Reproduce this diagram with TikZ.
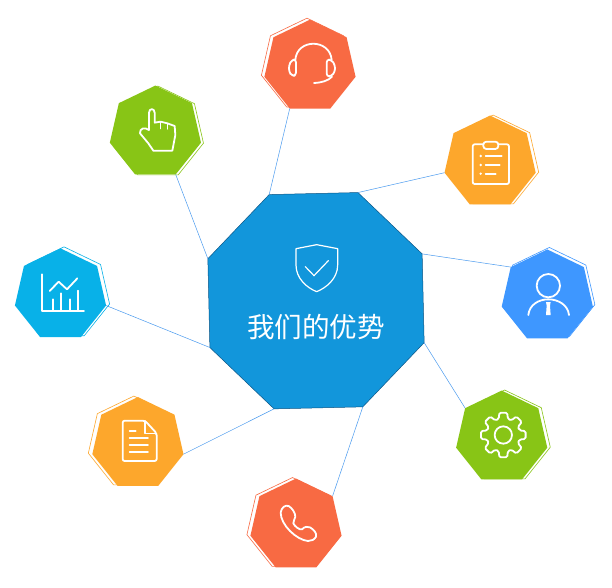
\documentclass[tikz,border=0pt]{standalone}
\usepackage{fontspec}
\newfontfamily\cjk{Noto Sans CJK SC}
\usetikzlibrary{shapes.geometric}
\definecolor{coral}{HTML}{F86A43}
\definecolor{leaf}{HTML}{88C516}
\definecolor{amber}{HTML}{FDA72C}
\definecolor{azure}{HTML}{3E97FF}
\definecolor{sky}{HTML}{08B1E8}
\definecolor{hubblue}{HTML}{1296DB}
\definecolor{hubedge}{HTML}{0B5585}
\definecolor{linkblue}{HTML}{4A9BEF}
\tikzset{
  hept/.style={regular polygon,regular polygon sides=7,minimum size=93.5pt,inner sep=0pt,outer sep=0pt},
  heptfill/.style={hept,fill=#1},
  heptline/.style={hept,draw=#1,fill=white,line width=0.6pt},
  hubshape/.style={regular polygon,regular polygon sides=8,minimum size=232pt,inner sep=0pt,outer sep=0pt,
    shape border rotate=1.3,fill=hubblue,draw=hubedge,line width=0.5pt},
  link/.style={draw=linkblue,line width=0.5pt},
  icon/.style={draw=white,line width=1.8pt,line cap=round,line join=round},
  iconthin/.style={draw=white,line width=1.2pt,line cap=round,line join=round},
  title/.style={text=white,font=\cjk\fontsize{27.6}{28}\selectfont,inner sep=0pt},
}
\begin{document}
\begin{tikzpicture}[x=1pt,y=-1pt]
\useasboundingbox (0,0) rectangle (612,587);
\fill[white] (0,0) rectangle (612,587);
% outlines
\node[heptline=coral] (headsetline) at (307,64.9) {};
\node[heptline=leaf]  (handline)    at (157.9,132.8) {};
\node[heptline=amber] (clipline)    at (493.1,161.8) {};
\node[heptline=azure] (personline)  at (549.3,294.2) {};
\node[heptline=leaf]  (gearline)    at (504.7,436.8) {};
\node[heptline=coral] (phoneline)   at (292.5,524.3) {};
\node[heptline=amber] (docline)     at (133.9,442.8) {};
\node[heptline=sky]   (chartline)   at (64,293.6) {};
% fills
\node[heptfill=coral] (headset) at (310,66.4) {};
\node[heptfill=leaf]  (hand)    at (155.4,132.3) {};
\node[heptfill=amber] (clip)    at (490.1,162.3) {};
\node[heptfill=azure] (person)  at (547.3,296.2) {};
\node[heptfill=leaf]  (gear)    at (501.7,437.3) {};
\node[heptfill=coral] (phone)   at (296,525.3) {};
\node[heptfill=amber] (doc)     at (137.9,443.8) {};
\node[heptfill=sky]   (chart)   at (60.5,295.1) {};
% hub
\node[hubshape] (hub) at (316,300.7) {};
\node[title] (label) at (316,327) {我们的优势};
% connectors
\draw[link] (headset.corner 4) -- (hub.corner 2);
\draw[link] (clip.corner 3) -- (hub.corner 1);
\draw[link] (person.corner 2) -- (hub.corner 8);
\draw[link] (gear.corner 2) -- (hub.corner 7);
\draw[link] (phone.corner 7) -- (hub.corner 6);
\draw[link] (doc.corner 6) -- (hub.corner 5);
\draw[link] (chart.corner 6) -- (hub.corner 4);
\draw[link] (hand.corner 5) -- (hub.corner 3);
% shield icon
\begin{scope}[shift={(200,185)},scale=1/3]
\draw[iconthin] (350,179) -- (288,191) -- (288,240) .. controls (288,280) and (320,308) .. (350,320) .. controls (380,308) and (413,280) .. (413,240) -- (413,191) -- cycle;
\draw[iconthin] (316,245) -- (342,272) -- (385,227);
\end{scope}
% headset icon
\begin{scope}[shift={(250,10)},scale=1/3]
\draw[icon] (136,150) .. controls (140,85) and (240,85) .. (245,150);
\draw[icon,rounded corners=3pt] (138,148) -- (125,150) -- (117,165) -- (117,185) -- (125,197) -- (138,197) -- cycle;
\draw[icon,rounded corners=3pt] (230,148) -- (245,150) -- (255,165) -- (255,185) -- (245,198) -- (230,200) -- cycle;
\draw[icon] (246,200) .. controls (235,212) and (215,218) .. (192,219);
\end{scope}
% hand icon
\begin{scope}[shift={(100,80)},scale=1/3]
\draw[icon] (147,150) -- (147,98) .. controls (147,84) and (164,84) .. (164,98) -- (164,128) -- (182,125) -- (202,130) -- (224,138) -- (226,165) -- (217,212) -- (160,212) -- (145,190) -- (120,160) .. controls (118,145) and (135,140) .. (147,150);
\draw[iconthin] (182,125) -- (182,146);
\draw[iconthin] (202,130) -- (202,147);
\end{scope}
% clipboard icon
\begin{scope}[shift={(435,105)},scale=1/3]
\draw[icon,rounded corners=2pt] (113,118) rectangle (222,237);
\draw[icon,rounded corners=3pt,fill=amber] (145,110) rectangle (190,132);
\fill[white] (137,153) circle (4) (137,180) circle (4) (137,206) circle (4);
\draw[icon] (152,153) -- (200,153) (152,180) -- (194,180) (152,206) -- (182,206);
\end{scope}
% person icon
\begin{scope}[shift={(495,240)},scale=1/3]
\draw[icon] (160,137) circle (35);
\draw[icon] (100,225) .. controls (103,195) and (130,178) .. (160,178) .. controls (190,178) and (219,195) .. (222,225);
\fill[white] (153,186) -- (167,186) -- (165,197) -- (167,225) -- (153,225) -- (155,197) -- cycle;
\end{scope}
% gear icon
\begin{scope}[shift={(503.3,435)},scale=1/3]
\draw[icon] (0,0) circle (26);
\draw[icon,rounded corners=1.5pt] (-16:50) \foreach \a in {0,45,...,315} { -- ({\a-16}:50) -- ({\a-10}:68) -- ({\a+10}:68) -- ({\a+16}:50)} -- cycle;
\end{scope}
% phone icon
\begin{scope}[shift={(240,470)},scale=1/3]
\draw[icon] (122,128) .. controls (124,112) and (136,104) .. (146,108) .. controls (156,114) and (166,128) .. (166,140) .. controls (166,150) and (158,152) .. (160,160) .. controls (165,170) and (178,180) .. (186,178) .. controls (194,170) and (202,168) .. (210,172) .. controls (220,178) and (232,190) .. (228,200) .. controls (224,208) and (214,214) .. (204,213) .. controls (170,210) and (122,165) .. (122,128) -- cycle;
\end{scope}
% document icon
\begin{scope}[shift={(80,390)},scale=1/3]
\draw[icon,rounded corners=2pt] (128,92) -- (195,92) -- (230,130) -- (230,213) -- (128,213) -- cycle;
\draw[iconthin] (195,92) -- (195,130) -- (230,130);
\draw[icon] (149,122) -- (167,122) (149,143) -- (204,143) (149,165) -- (204,165) (149,187) -- (204,187);
\end{scope}
% chart icon
\begin{scope}[shift={(8,240)},scale=1/3]
\draw[icon] (103,103) -- (103,212) -- (228,212);
\draw[icon] (135,178) -- (135,212) (160,160) -- (160,212) (185,178) -- (185,212) (210,152) -- (210,212);
\draw[icon] (125,153) -- (152,125) -- (177,148) -- (208,115);
\end{scope}
\end{tikzpicture}
\end{document}
